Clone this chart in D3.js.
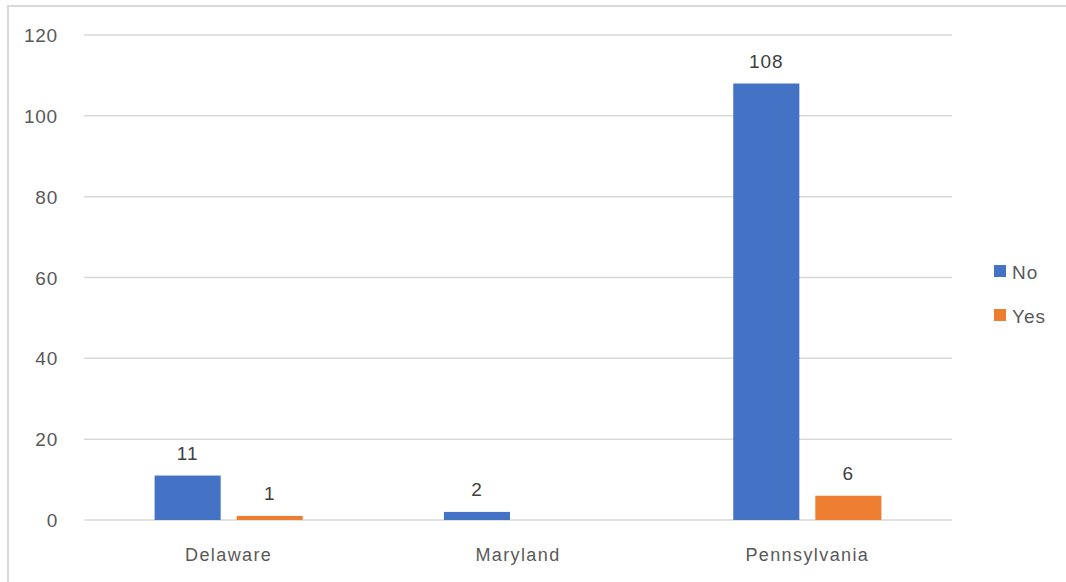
<!DOCTYPE html>
<html>
<head>
<meta charset="utf-8">
<script src="https://cdn.jsdelivr.net/npm/d3@7"></script>
<style>
  body { margin: 0; background: #fff; }
  text { font-family: "Liberation Sans", Arial, sans-serif; fill: #595959; }
</style>
</head>
<body>
<div id="viz"></div>
<script>
var states = ["Delaware", "Maryland", "Pennsylvania"];
var series = ["No", "Yes"];
var noValues = [11, 2, 108];
var yesValues = [1, 0, 6];
var yTicks = [0, 20, 40, 60, 80, 100, 120];

var colors = { "No": "#4472C4", "Yes": "#ED7D31" };

var width = 1066, height = 582;
var svg = d3.select("#viz").append("svg").attr("width", width).attr("height", height);

// chart frame
svg.append("rect")
    .attr("x", 8).attr("y", 6)
    .attr("width", width + 10).attr("height", height + 10)
    .attr("fill", "none").attr("stroke", "#d9d9d9").attr("stroke-width", 2);

var plotLeft = 84, plotRight = 952, plotTop = 35, plotBottom = 520;

var y = d3.scaleLinear().domain([0, 120]).range([plotBottom, plotTop]);
var x0 = d3.scaleBand().domain(states).range([plotLeft, plotRight]);
var x1 = d3.scaleBand().domain(series).range([0, x0.bandwidth()])
    .paddingInner(0.195).paddingOuter(0.86);

// gridlines
svg.append("g").selectAll("line")
  .data(yTicks)
  .enter().append("line")
    .attr("x1", plotLeft).attr("x2", plotRight)
    .attr("y1", function(d) { return y(d); })
    .attr("y2", function(d) { return y(d); })
    .attr("stroke", "#d9d9d9").attr("stroke-width", 1.5);

// y tick labels
svg.append("g").selectAll("text")
  .data(yTicks)
  .enter().append("text")
    .attr("x", 58)
    .attr("y", function(d) { return y(d) + 7; })
    .attr("text-anchor", "end")
    .style("font-size", "19px")
    .style("letter-spacing", "0.8px")
    .text(function(d) { return d; });

var rows = [];
states.forEach(function(s, i) {
  rows.push({ state: s, key: "No", value: noValues[i] });
  rows.push({ state: s, key: "Yes", value: yesValues[i] });
});
var shown = rows.filter(function(d) { return d.value > 0; });

svg.append("g").selectAll("rect")
  .data(shown)
  .enter().append("rect")
    .attr("x", function(d) { return x0(d.state) + x1(d.key); })
    .attr("y", function(d) { return y(d.value); })
    .attr("width", x1.bandwidth())
    .attr("height", function(d) { return plotBottom - y(d.value); })
    .attr("fill", function(d) { return colors[d.key]; });

// value labels
svg.append("g").selectAll("text")
  .data(shown)
  .enter().append("text")
    .attr("x", function(d) { return x0(d.state) + x1(d.key) + x1.bandwidth() / 2; })
    .attr("y", function(d) { return y(d.value) - 16; })
    .attr("text-anchor", "middle")
    .style("font-size", "19px")
    .style("letter-spacing", "1px")
    .style("fill", "#404040")
    .text(function(d) { return d.value; });

// category labels
svg.append("g").selectAll("text")
  .data(states)
  .enter().append("text")
    .attr("x", function(d) { return x0(d) + x0.bandwidth() / 2; })
    .attr("y", 561)
    .attr("text-anchor", "middle")
    .style("font-size", "18px")
    .style("letter-spacing", "1.4px")
    .text(function(d) { return d; });

// legend
var legend = svg.append("g").selectAll("g")
  .data(series)
  .enter().append("g")
    .attr("transform", function(d, i) { return "translate(994," + (265 + i * 44) + ")"; });

legend.append("rect")
    .attr("width", 12).attr("height", 12)
    .attr("fill", function(d) { return colors[d]; });

legend.append("text")
    .attr("x", 18).attr("y", 14)
    .style("font-size", "19px")
    .style("letter-spacing", "1px")
    .text(function(d) { return d; });
</script>
</body>
</html>
